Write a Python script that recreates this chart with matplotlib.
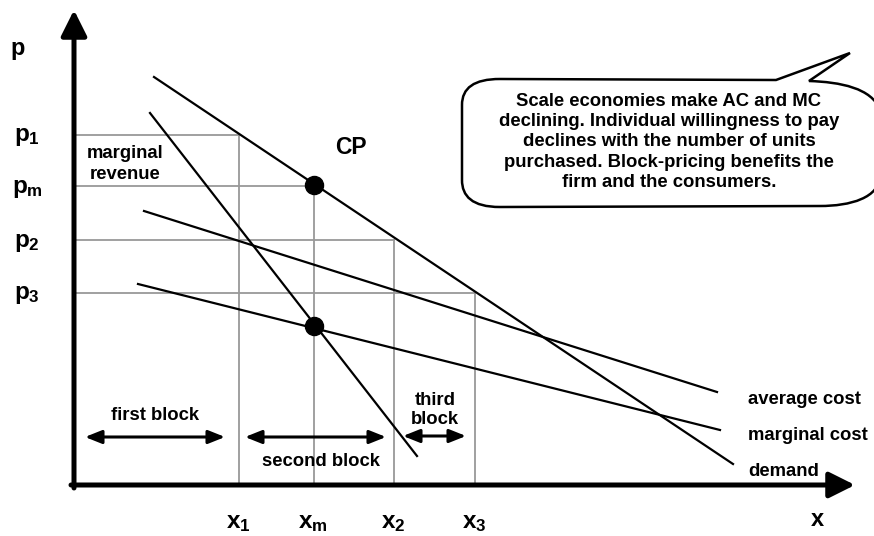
import matplotlib
matplotlib.use('Agg')
import matplotlib.pyplot as plt
from matplotlib.path import Path
from matplotlib.patches import PathPatch

plt.rcParams['font.family'] = ['Liberation Sans', 'DejaVu Sans']
plt.rcParams['font.weight'] = 'bold'
plt.rcParams['mathtext.fontset'] = 'custom'
plt.rcParams['mathtext.rm'] = 'Liberation Sans:bold'
plt.rcParams['mathtext.it'] = 'Liberation Sans:bold'
plt.rcParams['mathtext.bf'] = 'Liberation Sans:bold'

# line end points (quantity, price)
demand_x = [80, 659]
demand_p = [408, 21]
mr_x = [76, 343]
mr_p = [372, 29]
ac_x = [70, 643]
ac_p = [274, 93]
mc_x = [64, 646]
mc_p = [201, 55]

# block prices / quantities on the demand curve
price_labels = ['$p_1$', '$p_m$', '$p_2$', '$p_3$']
prices = [350, 299, 245, 192]
qty_labels = ['$x_1$', '$x_m$', '$x_2$', '$x_3$']
quantities = [165, 240, 320, 401]

# points: competitive price, MR = MC
points_x = [240, 240]
points_p = [300, 159]

curve_labels = ['average cost', 'marginal cost', 'demand']
note = ("Scale economies make AC and MC\n"
        "declining. Individual willingness to pay\n"
        "declines with the number of units\n"
        "purchased. Block-pricing benefits the\n"
        "firm and the consumers.")

fig = plt.figure(figsize=(8.74, 5.36), dpi=100)
ax = fig.add_axes([0, 0, 1, 1])
ax.set_xlim(-74, 800)
ax.set_ylim(-51, 485)
ax.axis('off')


def px(x, y):
    # picture pixel -> chart units (used for decorations only)
    return (x - 74, 485 - y)


grey = '#999999'
for p, q in zip(prices, quantities):
    ax.plot([0, q], [p, p], color=grey, lw=1.3, zorder=1)
    ax.plot([q, q], [0, p], color=grey, lw=1.3, zorder=1)

for xs, ps in [(demand_x, demand_p), (mr_x, mr_p), (ac_x, ac_p), (mc_x, mc_p)]:
    ax.plot(xs, ps, color='black', lw=1.6, zorder=2)

ax.plot(points_x, points_p, 'o', color='black', ms=13, zorder=3)

# axes arrows
axis_arrow = dict(arrowstyle='-|>,head_length=1.3,head_width=0.65',
                  lw=3.6, color='black', shrinkA=0, shrinkB=0,
                  mutation_scale=12)
ax.annotate('', xy=(0, 475), xytext=(0, -3), arrowprops=axis_arrow)
ax.annotate('', xy=(781, 0), xytext=(-3, 0), arrowprops=axis_arrow)

# block arrows
blk = dict(arrowstyle='<|-|>,head_length=1.0,head_width=0.4', lw=2.2,
           color='black', shrinkA=0, shrinkB=0, mutation_scale=10)
ax.annotate('', xy=(11, 48), xytext=(151, 48), arrowprops=blk)
ax.annotate('', xy=(171, 48), xytext=(312, 48), arrowprops=blk)
ax.annotate('', xy=(329, 49), xytext=(392, 49), arrowprops=blk)

fs = 13.3
ax.text(*px(155, 415), 'first block', fontsize=fs, ha='center', va='center')
ax.text(*px(321, 461), 'second block', fontsize=fs, ha='center', va='center')
ax.text(*px(435, 410), 'third\nblock', fontsize=fs, ha='center', va='center',
        linespacing=1.2)
ax.text(*px(125, 164), 'marginal\nrevenue', fontsize=fs, ha='center',
        va='center', linespacing=1.25)
ax.text(*px(351, 148), 'CP', fontsize=16.5, ha='center', va='center')

for lab, y in zip(curve_labels, [400, 436, 471]):
    ax.text(*px(748, y), lab, fontsize=fs, ha='left', va='center')

ax.text(*px(18, 49), 'p', fontsize=17, ha='center', va='center')
for lab, p in zip(price_labels, prices):
    ax.text(-47, p - 2, lab, fontsize=17.5, ha='center', va='center')
for lab, q in zip(qty_labels, quantities):
    ax.text(q - 1, -37, lab, fontsize=17.5, ha='center', va='center')
ax.text(*px(817, 520), 'x', fontsize=17, ha='center', va='center')

# speech bubble
verts = [(500, 79), (776, 80), (850, 53), (809, 81),
         (840, 82), (872, 88), (880, 110),
         (880, 175),
         (880, 198), (850, 206), (820, 206),
         (500, 207),
         (472, 207), (462, 196), (462, 180),
         (462, 105),
         (462, 88), (474, 79), (500, 79),
         (500, 79)]
codes = [Path.MOVETO, Path.LINETO, Path.LINETO, Path.LINETO,
         Path.CURVE4, Path.CURVE4, Path.CURVE4,
         Path.LINETO,
         Path.CURVE4, Path.CURVE4, Path.CURVE4,
         Path.LINETO,
         Path.CURVE4, Path.CURVE4, Path.CURVE4,
         Path.LINETO,
         Path.CURVE4, Path.CURVE4, Path.CURVE4,
         Path.CLOSEPOLY]
bubble = Path([px(*v) for v in verts], codes)
ax.add_patch(PathPatch(bubble, facecolor='white', edgecolor='black',
                       lw=1.8, zorder=4, clip_on=False))
ax.text(*px(669, 142), note, fontsize=fs, ha='center', va='center',
        linespacing=1.25, zorder=5)

fig.savefig('out.png', dpi=100)
